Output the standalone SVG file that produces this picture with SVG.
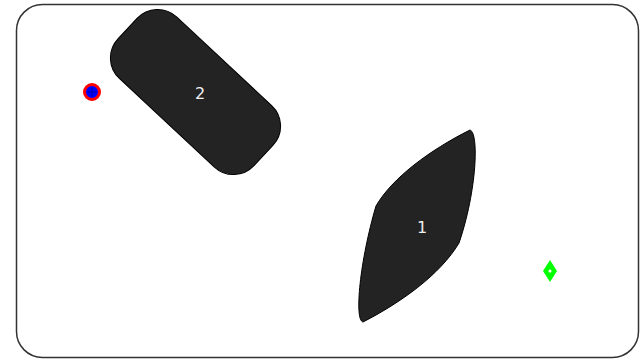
<svg xmlns="http://www.w3.org/2000/svg" width="641" height="360" viewBox="0 0 641 360">
<style>
.shape{fill:#232323;stroke:#000;stroke-width:1}
.lbl{font-family:"DejaVu Sans",sans-serif;font-size:16px;fill:#f0f0f0;text-anchor:middle;dominant-baseline:central}
</style>
<rect x="0" y="0" width="641" height="360" fill="#fff"/>
<rect id="frame" x="16.5" y="4.5" width="622" height="353" rx="26" ry="26" fill="#fff" stroke="#333" stroke-width="1.5"/>
<g id="connectors"></g>
<g id="node2">
<rect class="shape" x="-93" y="-42" width="186" height="84" rx="28" ry="28" transform="translate(195.5,92) rotate(43)"/>
<text class="lbl" x="200" y="93">2</text>
</g>
<g id="node1">
<path class="shape" d="M 470,130 C 479,133 477,190 459,243 C 440,275 400,303 363,322 C 354,320 360,260 376,206 C 392,178 430,150 470,130 Z"/>
<text class="lbl" x="422" y="227">1</text>
</g>
<g id="marker-red">
<circle cx="92" cy="92" r="7.5" fill="#0000ff" stroke="#ff0000" stroke-width="3"/>
<path d="M92,87.5 V96.5 M87.5,92 H96.5" stroke="#0000cc" stroke-width="2"/>
</g>
<g id="marker-green">
<polygon points="550,260 557,271 550,282 543,271" fill="#00ff00"/>
<circle cx="550" cy="271" r="1.6" fill="#fff"/>
</g>
</svg>
